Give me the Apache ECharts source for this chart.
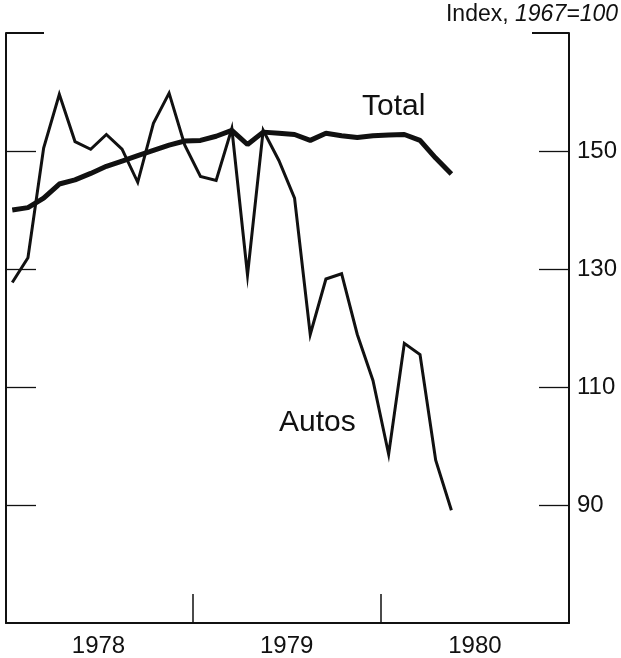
<!DOCTYPE html>
<html>
<head>
<meta charset="utf-8">
<script src="https://cdn.jsdelivr.net/npm/echarts@6/dist/echarts.min.js"></script>
<style>
html,body{margin:0;padding:0;background:#fff;}
#chart{width:621px;height:658px;}
</style>
</head>
<body>
<div id="chart"></div>
<script>
// Monthly, Jan 1978 - May 1980
var months = ['1978-01','1978-02','1978-03','1978-04','1978-05','1978-06','1978-07','1978-08','1978-09','1978-10','1978-11','1978-12',
              '1979-01','1979-02','1979-03','1979-04','1979-05','1979-06','1979-07','1979-08','1979-09','1979-10','1979-11','1979-12',
              '1980-01','1980-02','1980-03','1980-04','1980-05'];
var total = [140.0,140.4,142.0,144.4,145.1,146.2,147.4,148.3,149.2,150.1,151.0,151.7,
             151.8,152.5,153.5,151.1,153.2,153.0,152.8,151.8,153.0,152.6,152.3,152.6,
             152.7,152.8,151.8,148.8,146.1];
var autos = [127.7,131.9,150.5,159.6,151.6,150.3,152.8,150.3,144.7,154.7,159.8,151.0,
             145.7,145.0,153.8,129.0,153.5,148.4,142.0,118.9,128.3,129.2,118.9,111.1,
             98.6,117.4,115.5,97.6,89.1];
var years = ['1978','1979','1980'];
var yTicks = [90,110,130,150];

// month position: months since Jan 1 1978, at mid-month
function pos(m){ var p=m.split('-'); return (parseInt(p[0])-1978)*12 + (parseInt(p[1])-1) + 0.5; }
var totalData = months.map(function(m,i){ return [pos(m), total[i]]; });
var autosData = months.map(function(m,i){ return [pos(m), autos[i]]; });
var yearBounds = years.slice(1).map(function(y){ return (parseInt(y)-1978)*12; });
var yearMids = years.map(function(y){ return (parseInt(y)-1978)*12 + 6; });

var FONT = '"Liberation Sans", Arial, Helvetica, sans-serif';
var INK = '#111';

var chart = echarts.init(document.getElementById('chart'));
chart.setOption({
  animation: false,
  backgroundColor: '#fff',
  grid: {left: 6, right: 52, top: 33, bottom: 32},
  xAxis: {
    type: 'value', min: 0.1, max: 36,
    axisLine: {show: true, onZero: false, lineStyle: {color: INK, width: 2}},
    axisTick: {show: true, inside: true, length: 29, customValues: yearBounds, lineStyle: {color: INK, width: 1.5}},
    axisLabel: {show: true, customValues: yearMids, margin: 11, color: INK, fontSize: 24, fontFamily: FONT,
      formatter: function(v){ return String(1978 + Math.floor(v/12)); }},
    splitLine: {show: false}
  },
  yAxis: [
    {type: 'value', position: 'left', min: 70, max: 170, interval: 10,
     axisLine: {show: true, lineStyle: {color: INK, width: 2}},
     axisTick: {show: true, inside: true, length: 30, customValues: yTicks, lineStyle: {color: INK, width: 1.3}},
     axisLabel: {show: false}, splitLine: {show: false}},
    {type: 'value', position: 'right', min: 70, max: 170, interval: 10,
     axisLine: {show: true, lineStyle: {color: INK, width: 2}},
     axisTick: {show: true, inside: true, length: 30, customValues: yTicks, lineStyle: {color: INK, width: 1.3}},
     axisLabel: {show: true, customValues: yTicks, margin: 8, color: INK, fontSize: 24, fontFamily: FONT},
     splitLine: {show: false}},
    {type: 'value', position: 'left', min: 70, max: 170, interval: 10,
     axisLine: {show: false},
     axisTick: {show: true, inside: true, length: 38, customValues: [170], lineStyle: {color: INK, width: 1.8}},
     axisLabel: {show: false}, splitLine: {show: false}},
    {type: 'value', position: 'right', min: 70, max: 170, interval: 10,
     axisLine: {show: false},
     axisTick: {show: true, inside: true, length: 37, customValues: [170], lineStyle: {color: INK, width: 1.8}},
     axisLabel: {show: false}, splitLine: {show: false}}
  ],
  series: [
    {name: 'Autos', type: 'line', data: autosData, yAxisIndex: 0, symbol: 'none',
     lineStyle: {color: INK, width: 3, join: 'miter'}},
    {name: 'Total', type: 'line', data: totalData, yAxisIndex: 0, symbol: 'none',
     lineStyle: {color: INK, width: 5}}
  ],
  graphic: [
    {type: 'text', right: 3, top: 3, style: {
      text: '{n|Index, }{i|1967=100}',
      rich: {
        n: {fontSize: 23, fontFamily: FONT, fill: INK},
        i: {fontSize: 23, fontFamily: FONT, fontStyle: 'italic', fill: INK}
      }}},
    {type: 'text', left: 362, top: 92, style: {text: 'Total', fontSize: 30, fontFamily: FONT, fill: INK}},
    {type: 'text', left: 279, top: 408, style: {text: 'Autos', fontSize: 30, fontFamily: FONT, fill: INK}}
  ]
});
</script>
</body>
</html>
